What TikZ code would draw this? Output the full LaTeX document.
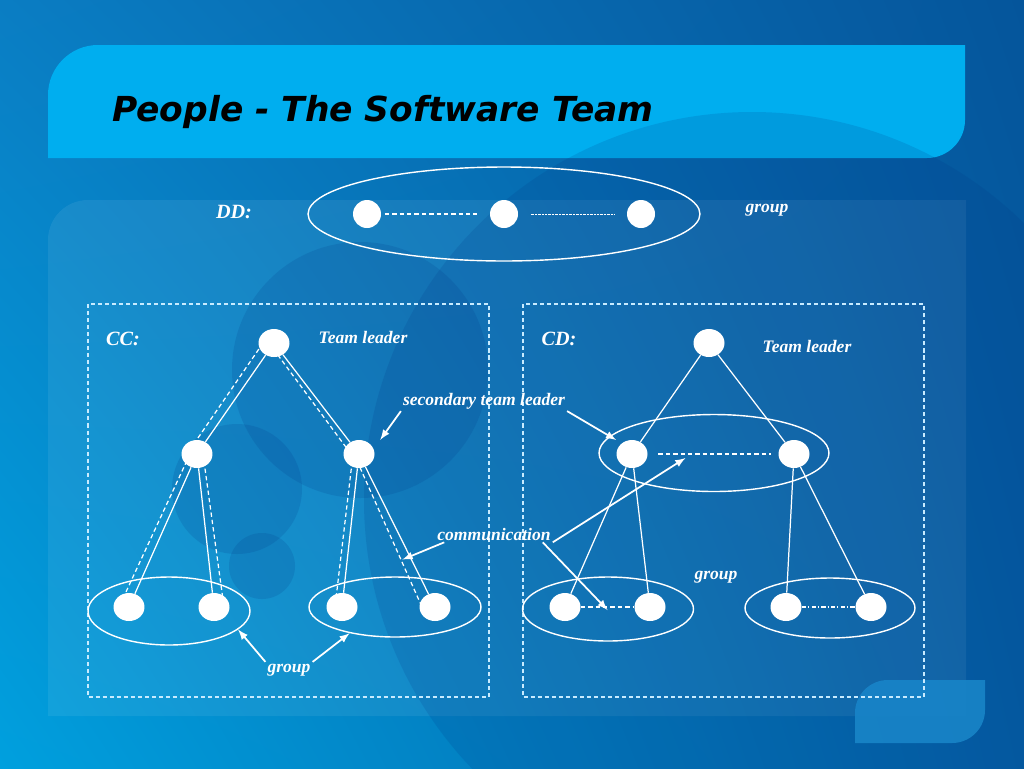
\documentclass[tikz,border=0pt]{standalone}
\usepackage{fontspec}
\setmainfont{Liberation Serif}
\newfontfamily\titlefont{DejaVu Sans}
\usepackage{tikz}
\usetikzlibrary{arrows,calc,positioning,shadings,shapes.geometric}
\definecolor{bgul}{RGB}{10,125,195}
\definecolor{bgur}{RGB}{5,85,155}
\definecolor{bgll}{RGB}{0,160,222}
\definecolor{bglr}{RGB}{5,95,165}
\definecolor{bannerblue}{RGB}{0,174,239}
\definecolor{shadeblue}{RGB}{0,50,130}
\definecolor{cornerblue}{RGB}{30,150,215}
\definecolor{boxline}{RGB}{200,235,255}
\pgfdeclarelayer{decor}
\pgfdeclarelayer{links}
\pgfsetlayers{decor,links,main}
\tikzset{%
	member/.style   = {fill=white, ellipse, minimum width=0.62cm, minimum height=0.56cm, inner sep=0pt}, % person
	grp/.style      = {draw=white, ellipse, line width=0.8pt, inner sep=0pt}, % group ring
	lbl/.style      = {text=white, inner sep=1pt, font=\fontsize{10}{12}\selectfont\bfseries\itshape},
	tag/.style      = {text=white, inner sep=1pt, font=\fontsize{11.5}{14}\selectfont\bfseries\itshape},
	tie/.style      = {white, line width=0.7pt}, % tree edge
	talk/.style     = {white, line width=0.7pt, dash pattern=on 2.5pt off 1.7pt}, % communication
	pointer/.style  = {white, line width=1pt, -latex},
	teambox/.style  = {draw=boxline, line width=0.8pt, dash pattern=on 2.3pt off 1.7pt},
}
\begin{document}
\begin{tikzpicture}[x=0.02cm, y=-0.02cm]
	\useasboundingbox (0,0) rectangle (1024,768);
	% slide background
	\begin{pgfonlayer}{decor}
	\shade[upper left=bgul, upper right=bgur, lower left=bgll, lower right=bglr] (0,0) rectangle (1024,768);
	\fill[bannerblue] (48,158) -- (48,95) arc[start angle=180, end angle=270, radius=50] -- (965,45) -- (965,120) arc[start angle=0, end angle=90, radius=38] -- cycle;
	\fill[white, opacity=0.07] (48,716) -- (48,240) arc[start angle=180, end angle=270, radius=40] -- (966,200) -- (966,716) -- cycle;
	\fill[cornerblue, opacity=0.85] (855,743) -- (855,713) arc[start angle=180, end angle=270, radius=33] -- (985,680) -- (985,710) arc[start angle=0, end angle=90, radius=33] -- cycle;
	\fill[shadeblue, opacity=0.15] (752,500) circle[radius=388];
	\fill[shadeblue, opacity=0.15] (360,370) circle[radius=128];
	\fill[shadeblue, opacity=0.15] (237,489) circle[radius=65];
	\fill[shadeblue, opacity=0.15] (262,566) circle[radius=33];
	\end{pgfonlayer}
	
	\node[anchor=base west, font=\titlefont\fontsize{19.6}{23}\selectfont\bfseries\itshape] (title) at (106,121) {People - The Software Team};
	
	% DD
	\node[tag] (ddlab) at (234,212) {DD:};
	\node[grp, minimum width=7.84cm, minimum height=1.88cm] (ddg) at (504,214) {};
	\node[member, minimum width=0.56cm] (dd1) at (367,214) {};
	\node[member, minimum width=0.56cm] (dd2) at (504,214) {};
	\node[member, minimum width=0.56cm] (dd3) at (641,214) {};
	\node[lbl] (ddgrp) at (767,210) {group};
	
	% CC
	\draw[teambox] (88,304) rectangle (489,697);
	\node[tag] (cclab) at (123,339) {CC:};
	\node[member] (cct) at (274,343) {};
	\node[lbl] (cctl) at (363,337) {Team leader};
	\node[member] (ccs1) at (197,454) {};
	\node[member] (ccs2) at (359,454) {};
	\node[member] (ccl1) at (129,607) {};
	\node[member] (ccl2) at (214,607) {};
	\node[member] (ccl3) at (342,607) {};
	\node[member] (ccl4) at (435,607) {};
	\node[grp, minimum width=3.24cm, minimum height=1.36cm] (ccg1) at (169,611) {};
	\node[grp, minimum width=3.44cm, minimum height=1.2cm] (ccg2) at (395,607) {};
	\node[lbl] (ccgrp) at (289,670) {group};
	
	% CD
	\draw[teambox] (523,304) rectangle (924,697);
	\node[tag] (cdlab) at (559,339) {CD:};
	\node[member] (cdt) at (709,343) {};
	\node[lbl] (cdtl) at (807,346) {Team leader};
	\node[member] (cds1) at (632,454) {};
	\node[member] (cds2) at (794,454) {};
	\node[grp, minimum width=4.6cm, minimum height=1.54cm] (cdg0) at (714,453) {};
	\node[member] (cdl1) at (565,607) {};
	\node[member] (cdl2) at (650,607) {};
	\node[member] (cdl3) at (786,607) {};
	\node[member] (cdl4) at (871,607) {};
	\node[grp, minimum width=3.42cm, minimum height=1.28cm] (cdg1) at (608,609) {};
	\node[grp, minimum width=3.4cm, minimum height=1.2cm] (cdg2) at (830,608) {};
	\node[lbl] (cdgrp) at (716,577) {group};
	
	\node[lbl] (stl) at (484,401) {secondary team leader};
	\node[lbl] (comm) at (494,534) {communication};
	
	\begin{pgfonlayer}{links}
	\foreach \a/\b in {cct/ccs1, cct/ccs2, ccs1/ccl1, ccs1/ccl2, ccs2/ccl3, ccs2/ccl4, cdt/cds1, cdt/cds2, cds1/cdl1, cds1/cdl2, cds2/cdl3, cds2/cdl4}
		\draw[tie] (\a) -- (\b);
	\foreach \a/\b/\s/\e in {cct/ccs1/-11/-10, cct/ccs2/-5/-8, ccs1/ccl1/-7/-10, ccs1/ccl2/6/10, ccs2/ccl3/-6/-7, ccs2/ccl4/-5/-13}
		\draw[talk] ([shift={(\s,0)}]\a.center) -- ([shift={(\e,0)}]\b.center);
	\end{pgfonlayer}
	
	\draw[talk, shorten <=2pt, shorten >=7pt] (dd1) -- (dd2);
	\draw[white, line width=0.4pt, dash pattern=on 0.4pt off 0.4pt, shorten <=7pt, shorten >=7pt] (dd2) -- (dd3);
	\draw[talk, shorten <=6pt, shorten >=4pt] (cds1) -- (cds2);
	\draw[talk] (cdl1) -- (cdl2);
	\draw[white, line width=0.7pt, dash pattern=on 2.5pt off 1.2pt on 0.6pt off 1.2pt] (cdl3) -- (cdl4);
	
	\draw[pointer] (stl.south west) -- ([shift={(10,-4)}]ccs2.north east);
	\draw[pointer] (stl.south east) -- ([shift={(9,2)}]cdg0.172);
	\draw[pointer] ([shift={(9,0)}]comm.south west) -- ($(ccs2)!0.69!(ccl4)+(-9,0)$);
	\draw[pointer] ([shift={(-10,0)}]comm.south east) -- ($(cdl1)!0.5!(cdl2)+(0,3)$);
	\draw[pointer] (comm.south east) -- ($(cds1)!0.33!(cds2)+(0,4)$);
	\draw[pointer] (ccgrp.north west) -- (ccg1.-15);
	\draw[pointer] (ccgrp.north east) -- (ccg2.-150);
\end{tikzpicture}
\end{document}
